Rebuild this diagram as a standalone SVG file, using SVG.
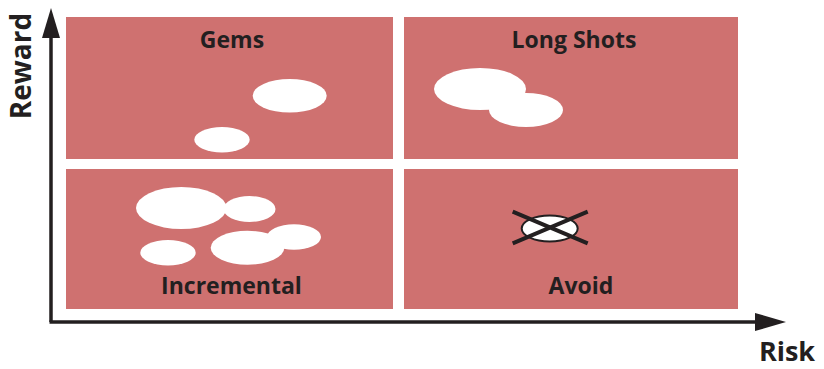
<svg xmlns="http://www.w3.org/2000/svg" width="824" height="369" viewBox="0 0 824 369">
<style>
.q{fill:#CF7170}
.b{fill:#fff}
.t{font-family:"Open Sans","Liberation Sans",sans-serif;font-weight:700;fill:#231F20;text-anchor:middle}
.lbl{font-size:23px}
.ax{font-size:28px}
.axis{stroke:#231F20;stroke-width:3.5;fill:none}
.head{fill:#231F20}
</style>
<g id="gems">
<rect class="q" x="66" y="17" width="327" height="142"/>
<text class="t lbl" x="232" y="48">Gems</text>
<ellipse class="b" cx="289.7" cy="95.8" rx="37" ry="16.8"/>
<ellipse class="b" cx="222" cy="139.7" rx="27.7" ry="12.7"/>
</g>
<g id="longshots">
<rect class="q" x="404" y="17" width="334" height="142"/>
<text class="t lbl" x="574" y="48">Long Shots</text>
<ellipse class="b" cx="480" cy="89" rx="46" ry="21"/>
<ellipse class="b" cx="526" cy="110" rx="37" ry="17"/>
</g>
<g id="incremental">
<rect class="q" x="66" y="169" width="327" height="140"/>
<ellipse class="b" cx="181.3" cy="208" rx="45.3" ry="21"/>
<ellipse class="b" cx="249.5" cy="209" rx="26" ry="13"/>
<ellipse class="b" cx="168" cy="252.7" rx="27.7" ry="12.7"/>
<ellipse class="b" cx="247.5" cy="247.7" rx="36.8" ry="17"/>
<ellipse class="b" cx="294" cy="237" rx="27" ry="12.8"/>
<text class="t lbl" x="231.5" y="294">Incremental</text>
</g>
<g id="avoid">
<rect class="q" x="404" y="169" width="334" height="140"/>
<ellipse cx="549.7" cy="228.5" rx="28" ry="13" fill="#fff" stroke="#231F20" stroke-width="2"/>
<path d="M512.7,211.7 L587.7,243.3 M512.7,243.3 L587.7,211.7" stroke="#231F20" stroke-width="4"/>
<text class="t lbl" x="581" y="294">Avoid</text>
</g>
<g id="connectors">
<path class="axis" d="M51,322 L51,30"/>
<path class="head" d="M42,38 L51,8 L60,38 Z"/>
<path class="axis" d="M49.5,322 L760,322"/>
<path class="head" d="M755,313 L786,322 L755,331 Z"/>
</g>
<text class="t ax" x="0" y="0" transform="translate(31,66) rotate(-90)">Reward</text>
<text class="t ax" x="787" y="361" style="font-size:27px">Risk</text>
</svg>
